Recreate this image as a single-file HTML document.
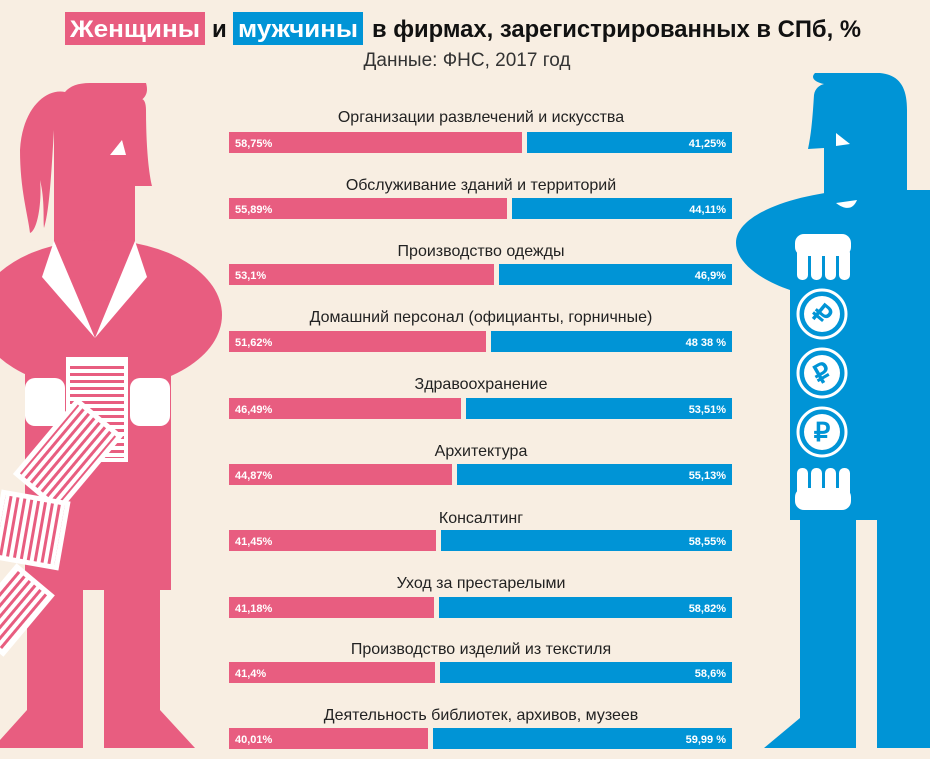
<!DOCTYPE html>
<html><head><meta charset="utf-8"><style>
html,body{margin:0;padding:0;background:#f8eee2;}
svg{display:block;font-family:"Liberation Sans",sans-serif;}
</style></head><body>
<svg width="930" height="759" viewBox="0 0 930 759" xmlns="http://www.w3.org/2000/svg">
<defs>
<pattern id="st" width="10" height="7" patternUnits="userSpaceOnUse"><rect width="10" height="7" fill="#fff"/><rect y="2" width="10" height="3" fill="#e85d80"/></pattern>
</defs>
<rect width="930" height="759" fill="#f8eee2"/>
<!-- Woman -->
<g fill="#e85d80">
<path d="M65,92 C45,88 22,110 20,150 C20,190 28,215 30,233 C38,230 42,200 40,180 C45,200 43,220 44,228 C50,210 52,160 54,130 L54,245 L135,245 L135,186 L152,186 C148,170 146,140 146,110 C146,100 142,95 136,103 C148,98 148,90 146,83 L90,83 C78,83 70,86 65,92 Z"/>
<ellipse cx="100" cy="315" rx="122" ry="75"/>
<rect x="25" y="300" width="146" height="290"/>
<path d="M27,585 L83,585 L83,748 L0,748 L0,740 L27,710 Z"/>
<path d="M104,585 L160,585 L160,710 L195,748 L104,748 Z"/>
</g>
<rect x="83" y="590" width="21" height="160" fill="#f8eee2"/>
<polygon points="110,155 122,140 126,155" fill="#fff"/>
<polygon points="54,241 42,277 95,338" fill="#fff"/>
<polygon points="135,241 147,277 95,338" fill="#fff"/>
<rect x="25" y="378" width="40" height="48" rx="10" fill="#fff"/>
<rect x="130" y="378" width="40" height="48" rx="10" fill="#fff"/>
<rect x="66" y="357" width="62" height="105" fill="#fff"/>
<rect x="70" y="364" width="54" height="94" fill="url(#st)"/>
<g transform="translate(68,455) rotate(-50)"><rect x="-50" y="-30" width="100" height="60" fill="#fff"/><rect x="-45" y="-25" width="90" height="50" fill="url(#st)"/></g>
<g transform="translate(30,530) rotate(100)"><rect x="-35" y="-35" width="70" height="70" fill="#fff"/><rect x="-30" y="-30" width="60" height="60" fill="url(#st)"/></g>
<g transform="translate(10,610) rotate(-50)"><rect x="-40" y="-25" width="80" height="50" fill="#fff"/><rect x="-35" y="-20" width="70" height="40" fill="url(#st)"/></g>
<!-- Man -->
<g fill="#0094d6">
<path d="M815,73 L880,73 C900,75 907,88 907,110 L907,200 L824,200 L824,148 L808,149 C812,130 813,110 814,95 C815,88 820,85 824,84 C815,82 810,78 815,73 Z"/>
<path d="M850,190 L930,190 L930,520 L790,520 L790,290 C760,280 736,262 736,243 C736,215 790,195 850,190 Z"/>
<path d="M800,515 L856,515 L856,748 L764,748 L800,718 Z"/>
<rect x="877" y="515" width="53" height="233"/>
</g>
<polygon points="836,133 850,144 836,146" fill="#fff"/>
<path d="M836,203 L857,200 C853,210 845,210 836,203 Z" fill="#fff"/>
<g fill="#fff">
<rect x="795" y="234" width="56" height="22" rx="9"/>
<rect x="797" y="248" width="11" height="32" rx="5"/><rect x="811" y="248" width="11" height="32" rx="5"/><rect x="825" y="248" width="11" height="32" rx="5"/><rect x="839" y="248" width="11" height="32" rx="5"/>
<rect x="795" y="488" width="56" height="22" rx="9"/>
<rect x="797" y="468" width="11" height="30" rx="5"/><rect x="811" y="468" width="11" height="30" rx="5"/><rect x="825" y="468" width="11" height="30" rx="5"/><rect x="839" y="468" width="11" height="30" rx="5"/>
</g>
<g fill="none" stroke="#fff" stroke-width="3">
<circle cx="822" cy="314" r="24"/><circle cx="822" cy="373" r="24"/><circle cx="822" cy="432" r="24"/>
</g>
<g fill="#fff"><circle cx="822" cy="314" r="18"/><circle cx="822" cy="373" r="18"/><circle cx="822" cy="432" r="18"/></g>
<g fill="#0094d6" font-weight="bold" font-size="26" text-anchor="middle">
<text x="822" y="323" transform="rotate(40 822 314)">₽</text>
<text x="822" y="382" transform="rotate(-30 822 373)">₽</text>
<text x="822" y="441">₽</text>
</g>
<!-- Title -->
<rect x="65" y="12" width="140" height="33" fill="#e85d80"/>
<rect x="233" y="12" width="130" height="33" fill="#0094d6"/>
<g font-weight="bold" font-size="24" fill="#111">
<text x="70" y="37" fill="#fff" textLength="130" lengthAdjust="spacingAndGlyphs">Женщины</text>
<text x="212" y="37">и</text>
<text x="238" y="37" fill="#fff" textLength="120" lengthAdjust="spacingAndGlyphs">мужчины</text>
<text x="372" y="37" textLength="489" lengthAdjust="spacingAndGlyphs">в фирмах, зарегистрированных в СПб, %</text>
</g>
<text x="467" y="66" font-size="19" fill="#333" text-anchor="middle">Данные: ФНС, 2017 год</text>
<!-- Bars -->
<g font-size="16" fill="#222" text-anchor="middle">
<text x="481" y="122">Организации развлечений и искусства</text>
<text x="481" y="190">Обслуживание зданий и территорий</text>
<text x="481" y="256">Производство одежды</text>
<text x="481" y="322">Домашний персонал (официанты, горничные)</text>
<text x="481" y="389">Здравоохранение</text>
<text x="481" y="456">Архитектура</text>
<text x="481" y="523">Консалтинг</text>
<text x="481" y="588">Уход за престарелыми</text>
<text x="481" y="654">Производство изделий из текстиля</text>
<text x="481" y="720">Деятельность библиотек, архивов, музеев</text>
</g>
<g>
<rect x="229" y="132" width="293" height="21" fill="#e85d80"/><rect x="527" y="132" width="205" height="21" fill="#0094d6"/>
<rect x="229" y="198" width="278" height="21" fill="#e85d80"/><rect x="512" y="198" width="220" height="21" fill="#0094d6"/>
<rect x="229" y="264" width="265" height="21" fill="#e85d80"/><rect x="499" y="264" width="233" height="21" fill="#0094d6"/>
<rect x="229" y="331" width="257" height="21" fill="#e85d80"/><rect x="491" y="331" width="241" height="21" fill="#0094d6"/>
<rect x="229" y="398" width="232" height="21" fill="#e85d80"/><rect x="466" y="398" width="266" height="21" fill="#0094d6"/>
<rect x="229" y="464" width="223" height="21" fill="#e85d80"/><rect x="457" y="464" width="275" height="21" fill="#0094d6"/>
<rect x="229" y="530" width="207" height="21" fill="#e85d80"/><rect x="441" y="530" width="291" height="21" fill="#0094d6"/>
<rect x="229" y="597" width="205" height="21" fill="#e85d80"/><rect x="439" y="597" width="293" height="21" fill="#0094d6"/>
<rect x="229" y="662" width="206" height="21" fill="#e85d80"/><rect x="440" y="662" width="292" height="21" fill="#0094d6"/>
<rect x="229" y="728" width="199" height="21" fill="#e85d80"/><rect x="433" y="728" width="299" height="21" fill="#0094d6"/>
</g>
<g font-size="11" font-weight="bold" fill="#fff">
<text x="235" y="147">58,75%</text><text x="235" y="213">55,89%</text><text x="235" y="279">53,1%</text><text x="235" y="346">51,62%</text><text x="235" y="413">46,49%</text><text x="235" y="479">44,87%</text><text x="235" y="545">41,45%</text><text x="235" y="612">41,18%</text><text x="235" y="677">41,4%</text><text x="235" y="743">40,01%</text>
</g>
<g font-size="11" font-weight="bold" fill="#fff" text-anchor="end">
<text x="726" y="147">41,25%</text><text x="726" y="213">44,11%</text><text x="726" y="279">46,9%</text><text x="726" y="346">48 38 %</text><text x="726" y="413">53,51%</text><text x="726" y="479">55,13%</text><text x="726" y="545">58,55%</text><text x="726" y="612">58,82%</text><text x="726" y="677">58,6%</text><text x="726" y="743">59,99 %</text>
</g>
</svg>
</body></html>
